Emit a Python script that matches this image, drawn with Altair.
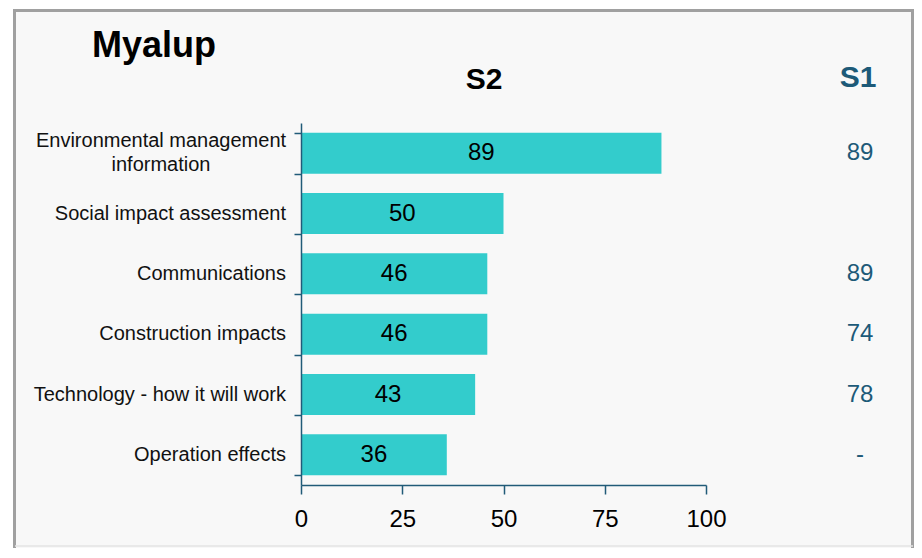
import altair as alt
import pandas as pd

# ---- data ----
categories = [
    "Environmental management information",
    "Social impact assessment",
    "Communications",
    "Construction impacts",
    "Technology - how it will work",
    "Operation effects",
]
s2_values = [89, 50, 46, 46, 43, 36]
s1_labels = ["89", "", "89", "74", "78", "-"]
x_ticks = [0, 25, 50, 75, 100]
wrapped = "Environmental management information"

df = pd.DataFrame({"category": categories, "S2": s2_values, "S1": s1_labels})
one = pd.DataFrame({"k": [0]})

FONT = "Liberation Sans"
AXIS = "#215b78"
S1COL = "#1d5a78"
BAR = "#33cccc"

y_enc = alt.Y(
    "category:N",
    sort=categories,
    scale=alt.Scale(paddingInner=0.32, paddingOuter=0.16),
    axis=alt.Axis(
        title=None,
        tickBand="extent",
        labels=False,
        tickSize=7,
        tickColor=AXIS,
        tickWidth=1.5,
        domainColor=AXIS,
        domainWidth=1.5,
        zindex=1,
    ),
)
y_plain = alt.Y("category:N", sort=categories)

x_scale = alt.Scale(domain=[0, 100], nice=False)

frame = alt.Chart(one).mark_rect(color="#f8f8f8").encode(
    x=alt.value(-286), x2=alt.value(612), y=alt.value(-113), y2=alt.value(425)
)
left_b = alt.Chart(one).mark_rule(color="#a0a0a0", strokeWidth=3).encode(
    x=alt.value(-286.5), y=alt.value(-114), y2=alt.value(425)
)
top_b = alt.Chart(one).mark_rule(color="#a0a0a0", strokeWidth=3).encode(
    x=alt.value(-288), x2=alt.value(613), y=alt.value(-112.5)
)
right_b = alt.Chart(one).mark_rule(color="#a0a0a0", strokeWidth=3).encode(
    x=alt.value(611.5), y=alt.value(-114), y2=alt.value(425)
)
bottom_b = alt.Chart(one).mark_rule(color="#e4e4e4", strokeWidth=1.5).encode(
    x=alt.value(-286), x2=alt.value(612), y=alt.value(423)
)

bars = alt.Chart(df).mark_bar(color=BAR).encode(
    x=alt.X(
        "S2:Q",
        scale=x_scale,
        axis=alt.Axis(
            title=None,
            values=x_ticks,
            grid=False,
            labelFont=FONT,
            labelFontSize=24,
            labelColor="black",
            labelPadding=13,
            labelFlush=False,
            labelOverlap=False,
            tickSize=9,
            tickColor=AXIS,
            tickWidth=1.5,
            domainColor=AXIS,
            domainWidth=1.5,
            zindex=1,
        ),
    ),
    y=y_enc,
)

# category labels (left of the axis)
cat_single = alt.Chart(df).transform_filter(
    alt.datum.category != wrapped
).mark_text(
    font=FONT, fontSize=20, color="#111111", align="right", baseline="middle"
).encode(x=alt.value(-15), y=y_plain, text="category:N")

cat_wrapped = alt.Chart(df).transform_filter(
    alt.datum.category == wrapped
).transform_calculate(
    lbl="['Environmental management', 'information']"
).mark_text(
    font=FONT, fontSize=20, color="#111111", align="center", baseline="middle",
    lineHeight=24, dy=-12,
).encode(x=alt.value(-140), y=y_plain, text="lbl:N")

values = alt.Chart(df).transform_calculate(mid="datum.S2 / 2").mark_text(
    font=FONT, fontSize=24, color="black", align="center", baseline="middle"
).encode(
    x=alt.X("mid:Q", scale=x_scale),
    y=y_plain,
    text="S2:Q",
)

s1 = alt.Chart(df).mark_text(
    font=FONT, fontSize=24, color=S1COL, align="center", baseline="middle"
).encode(
    x=alt.value(559),
    y=y_plain,
    text="S1:N",
)

h_s2 = alt.Chart(one).mark_text(
    font=FONT, fontSize=30, fontWeight="bold", color="black", align="center", baseline="middle"
).encode(x=alt.value(183), y=alt.value(-43), text=alt.value("S2"))

h_s1 = alt.Chart(one).mark_text(
    font=FONT, fontSize=30, fontWeight="bold", color=S1COL, align="center", baseline="middle"
).encode(x=alt.value(557), y=alt.value(-45), text=alt.value("S1"))

title = alt.Chart(one).mark_text(
    font=FONT, fontSize=36, fontWeight="bold", color="black", align="left", baseline="middle"
).encode(x=alt.value(-209), y=alt.value(-77), text=alt.value("Myalup"))

chart = alt.layer(
    frame, left_b, top_b, right_b, bottom_b, bars,
    cat_single, cat_wrapped, values, s1, h_s2, h_s1, title
).properties(
    width=405,
    height=362,
    padding={"left": 293, "top": 115, "right": 208, "bottom": 63},
    autosize=alt.AutoSizeParams(type="none"),
).configure_view(strokeWidth=0)

chart.save("out.html", embed_options={"renderer": "svg", "actions": False})
